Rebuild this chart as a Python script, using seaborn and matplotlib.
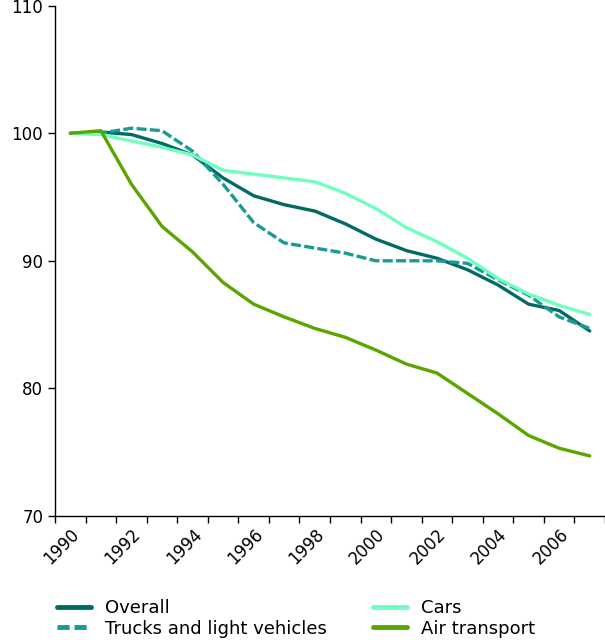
import matplotlib
matplotlib.use("Agg")
import matplotlib.pyplot as plt
import numpy as np
import pandas as pd
import seaborn as sns

years = list(range(1990, 2008))
overall = [100.0, 100.1, 99.9, 99.2, 98.3, 96.5, 95.1, 94.4, 93.9, 92.9,
           91.7, 90.8, 90.2, 89.3, 88.1, 86.6, 86.1, 84.5]
trucks = [100.0, 100.0, 100.4, 100.2, 98.6, 96.0, 93.0, 91.4, 91.0, 90.6,
          90.0, 90.0, 90.0, 89.8, 88.5, 87.3, 85.6, 84.7]
cars = [100.0, 99.9, 99.4, 98.9, 98.3, 97.1, 96.8, 96.5, 96.2, 95.3,
        94.1, 92.6, 91.5, 90.2, 88.6, 87.4, 86.5, 85.8]
air = [100.0, 100.2, 96.0, 92.7, 90.7, 88.3, 86.6, 85.6, 84.7, 84.0,
       83.0, 81.9, 81.2, 79.6, 78.0, 76.3, 75.3, 74.7]

series = ["Overall", "Trucks and light vehicles", "Cars", "Air transport"]
colors = ["#006b63", "#1a9a93", "#70ffc0", "#5aa500"]

df = pd.DataFrame({
    "year": years * 4,
    "value": overall + trucks + cars + air,
    "series": np.repeat(series, len(years)),
})

sns.set_style("white")
plt.rcParams["font.family"] = ["DejaVu Sans"]

fig = plt.figure(figsize=(6.05, 6.4), dpi=100)
ax = fig.add_axes([0.091, 0.194, 0.909, 0.797])

sns.lineplot(data=df, x="year", y="value", hue="series", style="series",
             hue_order=series, style_order=series, palette=colors,
             dashes={"Overall": "", "Trucks and light vehicles": (3, 1),
                     "Cars": "", "Air transport": ""},
             linewidth=2.4, ax=ax, legend=False)

ax.set_xlim(1989.5, 2007.5)
ax.set_ylim(70, 110)
ax.set_yticks([70, 80, 90, 100, 110])
ax.set_xticks(np.arange(1989.5, 2008, 1.0))
ax.set_xticklabels([])
ax.set_xticks(years[::2], minor=True)
ax.set_xticklabels([str(y) for y in years[::2]], minor=True, rotation=45,
                   ha="right", rotation_mode="anchor", fontsize=12)
ax.tick_params(axis="x", which="minor", length=0, pad=7, labelcolor="black")
ax.tick_params(axis="x", which="major", length=5, width=1, color="black",
               direction="out", bottom=True)
ax.tick_params(axis="y", length=5, width=1, color="black", direction="out",
               left=True, labelsize=12, labelcolor="black")
ax.set_xlabel("")
ax.set_ylabel("")
for s in ["top", "right"]:
    ax.spines[s].set_visible(False)
for s in ["left", "bottom"]:
    ax.spines[s].set_color("black")
    ax.spines[s].set_linewidth(1)

handles = [plt.Line2D([], [], color=c, linewidth=3.5,
                      linestyle=(0, (2.5, 1)) if n.startswith("Trucks") else "-")
           for n, c in zip(series, colors)]
leg = fig.legend(handles, series, loc="upper left",
                 bbox_to_anchor=(57 / 605, 1 - 599 / 640),
                 ncol=2, frameon=False, fontsize=13, handlelength=1.9,
                 columnspacing=2.55, labelspacing=0.15, handletextpad=0.75,
                 borderpad=0, borderaxespad=0)
for t in leg.get_texts():
    t.set_color("black")

fig.savefig("out.png", dpi=100)
